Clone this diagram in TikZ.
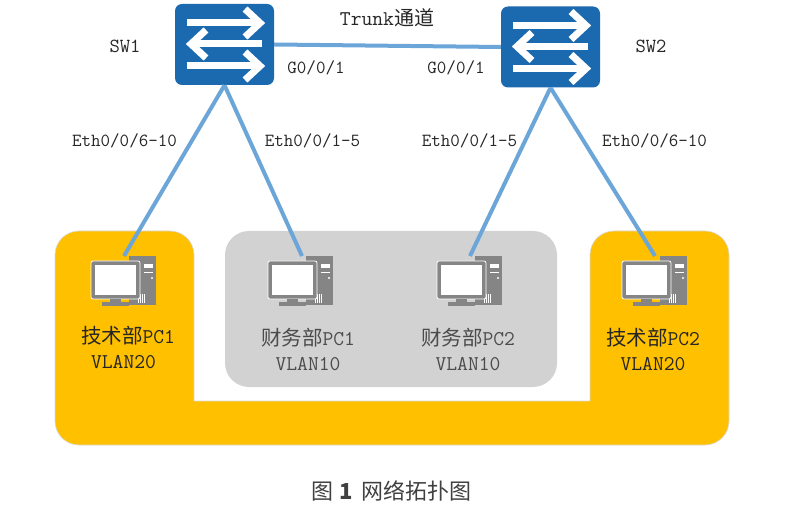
\documentclass[tikz,border=0pt]{standalone}
\usepackage{fontspec}
\newfontfamily\cjk{Noto Sans CJK SC}
\setmonofont{Latin Modern Mono}
\usetikzlibrary{arrows.meta}
\definecolor{zone}{HTML}{FFC000}
\definecolor{greyzone}{HTML}{D2D2D2}
\definecolor{swblue}{HTML}{1B69AF}
\definecolor{linkblue}{HTML}{6CA6D9}
\definecolor{pcgrey}{HTML}{858585}
\tikzset{
  x=1pt,y=-1pt,
  swbox/.style={fill=swblue,rounded corners=7pt,minimum width=99pt,minimum height=81pt,inner sep=0pt},
  link/.style={draw=linkblue,line width=4pt},
  lbl/.style={font=\ttfamily\fontsize{18.5}{20}\selectfont,text=black!85,inner sep=0pt},
  pctext/.style={font=\ttfamily\fontsize{21}{25}\selectfont,align=center,inner sep=0pt},
  swarrow/.style={draw=white,line width=7pt},
  pc/.pic={
    \fill[pcgrey] (38,0) rectangle (65,49);
    \fill[white] (53,8) rectangle (62,12);
    \fill[white] (53,16) rectangle (62,17);
    \fill[white] (61,22) circle (1.2);
    \foreach \i in {0,2,4,6} {\fill[white] (47+\i,38) rectangle (48+\i,47);}
    \fill[pcgrey,rounded corners=2pt,draw=white,line width=.8pt] (0,5) rectangle (49,43);
    \fill[white] (4,9) rectangle (45,39);
    \fill[pcgrey] (19,43) rectangle (30,46);
    \fill[pcgrey] (11,46) rectangle (38,50);
  }
}
\newcommand{\swarrows}[2]{%
  \begin{scope}[shift={(#1,#2)}]
    \draw[swarrow] (12,19) -- (85,19);
    \draw[swarrow] (70,5) -- (85,19) -- (70,33);
    \draw[swarrow] (87,40) -- (16,40);
    \draw[swarrow] (31,26) -- (16,40) -- (31,54);
    \draw[swarrow] (12,62) -- (85,62);
    \draw[swarrow] (70,48) -- (85,62) -- (70,76);
  \end{scope}}
\newcommand{\cjkt}[1]{{\cjk\fontsize{20.5}{25}\selectfont #1}}
\begin{document}
\begin{tikzpicture}
\useasboundingbox (0,0) rectangle (808,510);
% VLAN20 zone
\path[fill=zone,draw=black!15,line width=.6pt,rounded corners=24pt]
  (55,231) -- (194,231) -- (194,401) [sharp corners] -- (194,401) -- (590,401) [rounded corners=24pt] -- (590,231) -- (729,231) -- (729,445) -- (55,445) -- cycle;
% VLAN10 zone
\fill[greyzone,rounded corners=24pt] (225,231) rectangle (557,387);
% switches
\node[swbox] (sw1) at (224.5,44.5) {};
\node[swbox] (sw2) at (550.5,47) {};
\swarrows{175}{4}
\swarrows{501}{6.5}
% PCs
\pic at (91,256) {pc};
\pic at (268,256) {pc};
\pic at (437,256) {pc};
\pic at (622,256) {pc};
\coordinate (pc1) at (124,256);
\coordinate (fin1) at (302,256);
\coordinate (fin2) at (470,256);
\coordinate (pc2) at (655,256);
% connectors
\draw[link] (sw1.east) -- (sw2.west);
\draw[link] (sw1.south) -- (pc1);
\draw[link] (sw1.south) -- (fin1);
\draw[link] (sw2.south) -- (fin2);
\draw[link] (sw2.south) -- (pc2);
% labels
\node[lbl,font=\ttfamily\fontsize{20}{22}\selectfont] (l1) at (125,46) {SW1};
\node[lbl,font=\ttfamily\fontsize{20}{22}\selectfont] (l2) at (651,46) {SW2};
\node[lbl,font=\ttfamily\fontsize{21}{22}\selectfont] (l3) at (387,18) {Trunk{\cjk\fontsize{20}{22}\selectfont 通道}};
\node[lbl] (l4) at (316,68) {G0/0/1};
\node[lbl] (l5) at (456,68) {G0/0/1};
\node[lbl] (l6) at (124.5,141) {Eth0/0/6-10};
\node[lbl] (l7) at (312.5,141) {Eth0/0/1-5};
\node[lbl] (l8) at (469.5,141) {Eth0/0/1-5};
\node[lbl] (l9) at (654.5,141) {Eth0/0/6-10};
\node[pctext,text=black!85] (t1) at (128,347) {\cjkt{技术部}PC1\\\hspace*{-9pt}VLAN20};
\node[pctext,text=black!70] (t2) at (308,349.5) {\cjkt{财务部}PC1\\VLAN10};
\node[pctext,text=black!70] (t3) at (468,349.5) {\cjkt{财务部}PC2\\VLAN10};
\node[pctext,text=black!85] (t4) at (653,349.5) {\cjkt{技术部}PC2\\VLAN20};
\node[inner sep=0pt,text=black!75] (cap) at (391.5,491) {\cjk\fontsize{22}{26}\selectfont 图\hspace{6pt}\textbf{1}\hspace{8pt}网络拓扑图};
\end{tikzpicture}
\end{document}
